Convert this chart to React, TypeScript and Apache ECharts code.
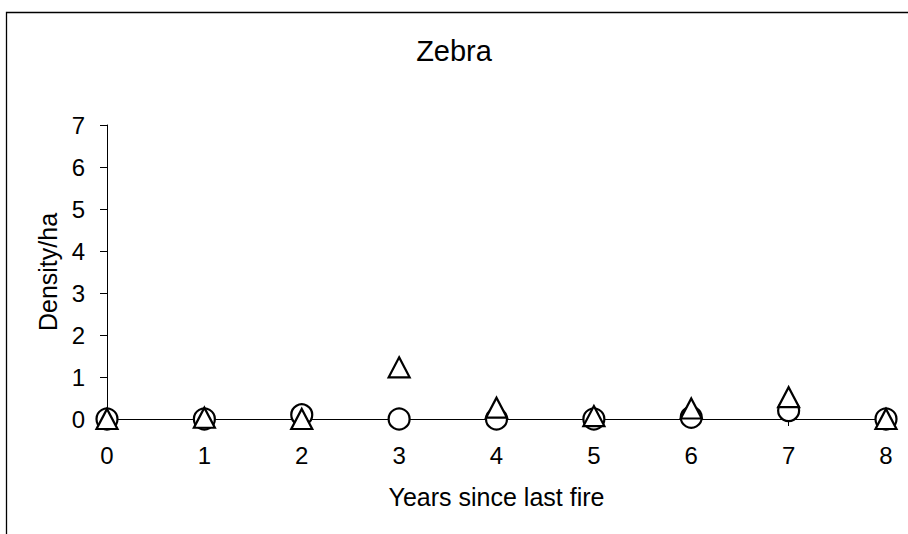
import React, { useEffect, useRef } from "react";
import * as echarts from "echarts";

const title = "Zebra";
const xName = "Years since last fire";
const yName = "Density/ha";
const years = [0, 1, 2, 3, 4, 5, 6, 7, 8];
const circleValues = [0, 0, 0.1, 0, 0, 0, 0.04, 0.2, 0];
const triangleValues = [0, 0.03, 0, 1.23, 0.27, 0.07, 0.25, 0.52, 0];

const FONT = "'Liberation Sans', Arial, sans-serif";

export default function App() {
  const ref = useRef<HTMLDivElement>(null);
  useEffect(() => {
    if (!ref.current) return;
    const chart = echarts.init(ref.current, null, { renderer: "svg" });
    const toPairs = (vals: number[]) => years.map((x, i) => [x, vals[i]]);
    chart.setOption({
      animation: false,
      backgroundColor: "#ffffff",
      textStyle: { fontFamily: FONT, color: "#000" },
      graphic: [
        {
          type: "rect",
          shape: { x: 6.5, y: 12.5, width: 1000, height: 1000 },
          style: { fill: "none", stroke: "#000", lineWidth: 1.3 },
          silent: true,
        },
      ],
      title: {
        text: title,
        left: "center",
        top: 31,
        textStyle: { fontFamily: FONT, fontSize: 29, fontWeight: "normal", color: "#000" },
      },
      grid: { left: 107, right: 22, top: 125, bottom: 115, containLabel: false },
      xAxis: {
        type: "value",
        min: 0,
        max: 8,
        interval: 1,
        name: xName,
        nameLocation: "middle",
        nameGap: 65,
        nameTextStyle: { fontFamily: FONT, fontSize: 25, color: "#000" },
        axisLine: { show: true, onZero: false, lineStyle: { color: "#000", width: 1 } },
        axisTick: { show: true, inside: false, length: 7, lineStyle: { color: "#000" } },
        axisLabel: { fontFamily: FONT, fontSize: 24, color: "#000", margin: 24 },
        splitLine: { show: false },
      },
      yAxis: {
        type: "value",
        min: 0,
        max: 7,
        interval: 1,
        name: yName,
        nameLocation: "middle",
        nameGap: 46,
        nameTextStyle: { fontFamily: FONT, fontSize: 25, color: "#000" },
        axisLine: { show: true, lineStyle: { color: "#000", width: 1 } },
        axisTick: { show: true, inside: false, length: 7, lineStyle: { color: "#000" } },
        axisLabel: { fontFamily: FONT, fontSize: 24, color: "#000", margin: 22 },
        splitLine: { show: false },
      },
      series: [
        {
          type: "scatter",
          name: "circle",
          data: toPairs(circleValues),
          symbol: "circle",
          symbolSize: 21,
          itemStyle: { color: "#fff", borderColor: "#000", borderWidth: 2.2, opacity: 1 },
          z: 2,
        },
        {
          type: "scatter",
          name: "triangle",
          data: toPairs(triangleValues),
          symbol: "triangle",
          symbolSize: [21, 20],
          itemStyle: { color: "#fff", borderColor: "#000", borderWidth: 2.2, opacity: 1 },
          z: 3,
        },
      ],
    });
    return () => chart.dispose();
  }, []);
  return (
    <div
      ref={ref}
      style={{ position: "absolute", left: 0, top: 0, width: 908, height: 534 }}
    />
  );
}
